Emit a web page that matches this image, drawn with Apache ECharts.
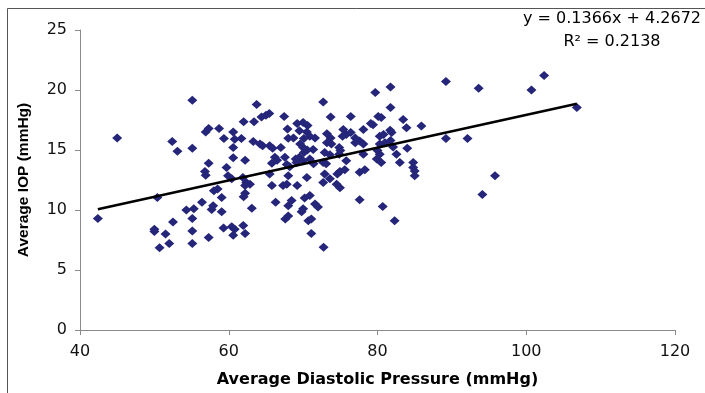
<!DOCTYPE html>
<html>
<head>
<meta charset="utf-8">
<script src="https://cdn.jsdelivr.net/npm/echarts@6/dist/echarts.min.js"></script>
<style>
html,body{margin:0;padding:0;background:#fff;}
#chart{width:705px;height:393px;}
</style>
</head>
<body>
<div id="chart"></div>
<script>
// Data
const diastolic = [42.4,45.0,50.0,50.0,50.4,50.7,51.5,52.0,52.5,52.4,53.1,54.3,55.1,55.1,55.3,55.1,55.1,55.1,
  56.4,56.8,56.9,57.3,56.9,57.3,57.3,57.7,57.9,58.0,58.5,58.7,59.05,59.05,59.3,59.35,59.7,59.9,
  60.4,60.8,60.6,60.6,60.8,61.7,60.6,60.6,60.4,61.9,62.35,62.2,62.85,62.2,62.0,62.2,61.95,62.2,62.0,63.1,63.4,63.3,63.75,
  64.4,65.0,65.45,64.2,64.55,65.5,65.9,66.2,66.5,65.8,65.5,65.8,66.3,67.0,67.45,67.9,68.0,68.7,67.55,67.8,68.2,68.0,67.3,67.8,67.6,68.0,68.0,68.45,
  69.2,70.0,70.6,69.5,70.5,70.9,71.6,70.1,69.6,70.0,71.35,69.0,69.5,70.1,70.55,69.1,70.0,70.9,71.4,69.2,70.5,70.2,70.9,70.0,69.8,71.6,72.0,70.7,71.1,71.1,72.75,
  72.7,73.7,73.2,73.7,73.2,73.8,72.9,73.6,72.7,73.1,72.9,73.6,72.7,74.6,74.95,75.6,74.5,74.95,74.85,75.0,74.85,75.8,75.4,75.8,75.3,76.4,76.4,
  77.0,77.0,77.6,78.1,78.1,79.1,79.4,78.1,77.6,78.3,77.6,79.7,80.1,80.5,80.3,80.8,80.3,81.0,80.0,80.3,79.9,80.5,80.7,
  81.75,81.75,81.7,81.9,81.75,82.1,82.55,82.3,83.45,83.9,84.0,83.0,84.8,84.8,85.0,85.0,85.9,
  89.2,89.2,92.1,93.6,94.1,95.8,100.7,102.4,106.8];
const iop = [9.3,16.0,8.4,8.2,11.05,6.85,8.0,7.2,9.0,15.7,14.9,10.0,19.15,15.15,10.1,9.3,8.25,7.2,
  10.65,13.2,12.9,13.9,16.5,16.8,7.7,10.05,10.35,11.6,11.75,16.8,11.05,9.85,8.5,15.95,13.55,12.85,
  8.6,8.4,7.9,16.5,15.9,15.95,15.2,14.35,12.6,12.7,12.3,12.05,12.15,11.4,11.1,14.15,8.7,8.05,17.35,10.15,17.35,15.7,18.8,
  17.75,17.9,18.05,15.5,15.35,15.35,15.15,14.4,14.15,13.9,13.0,12.05,10.65,15.2,17.8,16.75,15.98,16.0,14.4,13.8,13.6,12.85,12.05,12.15,9.25,9.5,10.35,10.8,
  17.2,17.3,17.05,16.6,16.5,16.15,16.0,15.95,15.5,15.2,15.05,14.25,14.4,14.8,15.0,13.95,14.1,14.25,13.85,12.05,12.7,11.0,11.2,10.1,9.85,10.5,10.25,9.1,9.25,8.05,6.9,
  19.0,17.75,16.35,16.0,15.6,15.5,14.8,14.6,13.95,13.85,13.0,12.6,12.3,13.0,13.2,13.35,12.15,11.85,15.2,14.95,14.65,14.1,16.7,16.3,16.15,16.45,17.8,
  16.0,15.6,15.75,15.5,16.7,17.2,17.1,14.65,13.15,13.35,10.85,19.8,17.8,17.7,16.15,16.3,15.5,15.6,14.95,14.65,14.25,13.95,10.3,
  20.25,18.55,16.65,16.45,15.8,15.25,14.65,9.1,17.55,16.85,15.15,13.95,13.95,13.55,13.25,12.85,17.0,
  20.7,15.95,15.95,20.15,11.3,12.85,20.0,21.2,18.55];

const xTicks = [40, 60, 80, 100, 120];
const yTicks = [0, 5, 10, 15, 20, 25];
const trendSlope = 0.1366;
const trendIntercept = 4.2672;
const equationText = 'y = 0.1366x + 4.2672';
const r2Text = 'R\u00B2 = 0.2138';
const xTitle = 'Average Diastolic Pressure (mmHg)';
const yTitle = 'Average IOP (mmHg)';

const points = diastolic.map((x, i) => [x, iop[i]]);
const xMinData = Math.min(...diastolic);
const xMaxData = Math.max(...diastolic);
const trend = [xMinData, xMaxData].map(x => [x, trendSlope * x + trendIntercept]);

const chart = echarts.init(document.getElementById('chart'), null, {renderer: 'canvas'});
const axisColor = '#8a8a8a';
chart.setOption({
  animation: false,
  backgroundColor: '#ffffff',
  grid: {left: 80, right: 30, top: 30, bottom: 61, containLabel: false},
  xAxis: {
    type: 'value',
    min: xTicks[0], max: xTicks[xTicks.length - 1], interval: xTicks[1] - xTicks[0],
    name: xTitle, nameLocation: 'middle', nameGap: 42,
    nameTextStyle: {fontFamily: 'DejaVu Sans', fontWeight: 'bold', fontSize: 16, color: '#000'},
    axisLine: {show: true, onZero: false, lineStyle: {color: axisColor, width: 1}},
    axisTick: {show: true, inside: false, length: 5, lineStyle: {color: axisColor}},
    axisLabel: {margin: 14, fontFamily: 'DejaVu Sans', fontSize: 16, color: '#111'},
    splitLine: {show: false}
  },
  yAxis: {
    type: 'value',
    min: yTicks[0], max: yTicks[yTicks.length - 1], interval: yTicks[1] - yTicks[0],
    name: yTitle, nameLocation: 'middle', nameGap: 48,
    nameTextStyle: {fontFamily: 'Liberation Sans', fontWeight: 'bold', fontSize: 15.5, color: '#000'},
    axisLine: {show: true, onZero: false, lineStyle: {color: axisColor, width: 1}},
    axisTick: {show: true, inside: false, length: 5, lineStyle: {color: axisColor}},
    axisLabel: {margin: 13, fontFamily: 'DejaVu Sans', fontSize: 16, color: '#111'},
    splitLine: {show: false}
  },
  series: [
    {
      type: 'scatter',
      data: points,
      symbol: 'diamond',
      symbolSize: [10, 9],
      itemStyle: {color: '#25257a', opacity: 1},
      z: 2
    },
    {
      type: 'line',
      data: trend,
      symbol: 'none',
      lineStyle: {color: '#000', width: 2.5},
      z: 3
    }
  ],
  graphic: [
    {
      type: 'rect',
      shape: {x: 7.5, y: 8.5, width: 760, height: 440},
      style: {fill: 'none', stroke: '#555', lineWidth: 1},
      silent: true
    },
    {
      type: 'text', x: 612, y: 19,
      style: {text: equationText, fontFamily: 'DejaVu Sans', fontSize: 16, fill: '#000', textAlign: 'center', textVerticalAlign: 'middle'}
    },
    {
      type: 'text', x: 612, y: 42,
      style: {text: r2Text, fontFamily: 'DejaVu Sans', fontSize: 16, fill: '#000', textAlign: 'center', textVerticalAlign: 'middle'}
    }
  ]
});
</script>
</body>
</html>
